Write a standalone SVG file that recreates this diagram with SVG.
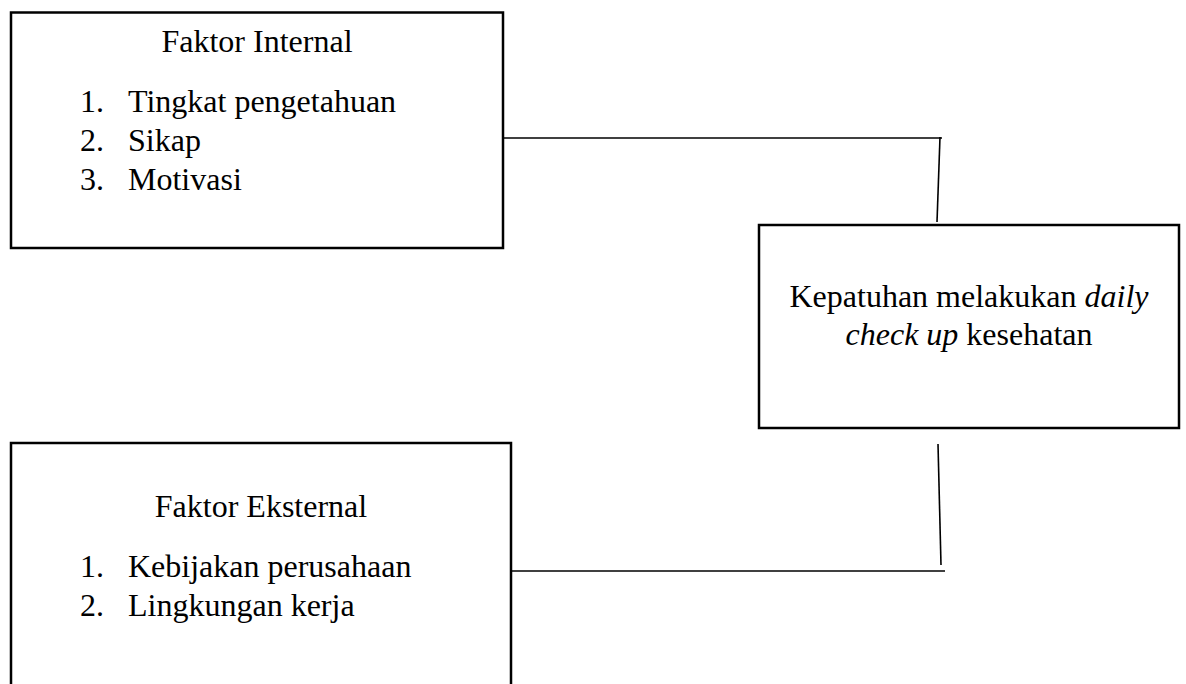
<svg xmlns="http://www.w3.org/2000/svg" width="1186" height="684" viewBox="0 0 1186 684">
<style>
.box{fill:#fff;stroke:#000;stroke-width:2.5}
.t{font-family:"Liberation Serif","Times New Roman",serif;font-size:32px;fill:#000}
.c{text-anchor:middle}
.conn{fill:none;stroke:#000;stroke-width:1.6}
</style>
<rect width="1186" height="684" fill="#fff"/>
<g id="connectors">
<path class="conn" d="M503 138 L942 138"/>
<path class="conn" d="M940 137 L937 222"/>
<path class="conn" d="M938 444 L941 565"/>
<path class="conn" d="M511 571 L945 571"/>
</g>
<g id="internal">
<rect class="box" x="11" y="12.5" width="492" height="235.5"/>
<text class="t c" x="257" y="52">Faktor Internal</text>
<text class="t" x="80" y="112">1.</text><text class="t" x="128" y="112">Tingkat pengetahuan</text>
<text class="t" x="80" y="151">2.</text><text class="t" x="128" y="151">Sikap</text>
<text class="t" x="80" y="190">3.</text><text class="t" x="128" y="190">Motivasi</text>
</g>
<g id="kepatuhan">
<rect class="box" x="759" y="225" width="420" height="203"/>
<text class="t c" x="969" y="307">Kepatuhan melakukan <tspan font-style="italic">daily</tspan></text>
<text class="t c" x="969" y="345"><tspan font-style="italic">check up</tspan> kesehatan</text>
</g>
<g id="eksternal">
<path class="box" d="M11 690 L11 443 L511 443 L511 690" fill="none"/>
<text class="t c" x="261" y="517">Faktor Eksternal</text>
<text class="t" x="80" y="577">1.</text><text class="t" x="128" y="577">Kebijakan perusahaan</text>
<text class="t" x="80" y="616">2.</text><text class="t" x="128" y="616">Lingkungan kerja</text>
</g>
</svg>
